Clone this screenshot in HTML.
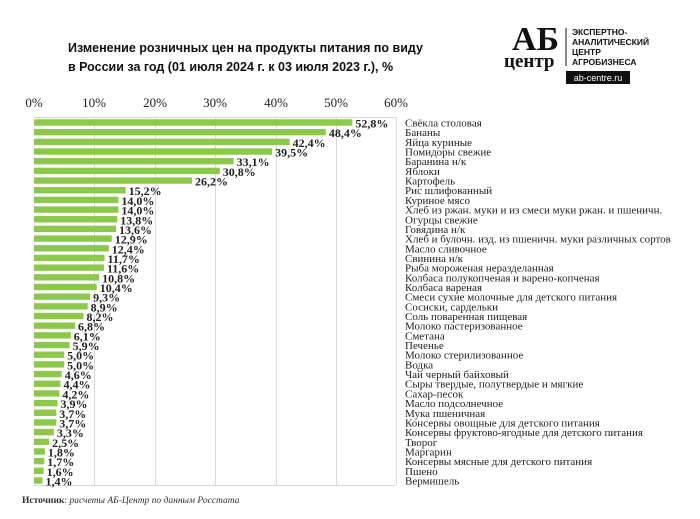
<!DOCTYPE html>
<html><head><meta charset="utf-8"><style>
body{margin:0;background:#fff;width:700px;height:514px;overflow:hidden}
</style></head><body>
<svg width="700" height="514" xmlns="http://www.w3.org/2000/svg" font-family="Liberation Serif, serif">
<text x="68" y="52" font-family="Liberation Sans, sans-serif" font-weight="bold" font-size="12.5" fill="#111">Изменение розничных цен на продукты питания по виду</text>
<text x="68" y="71" font-family="Liberation Sans, sans-serif" font-weight="bold" font-size="12.5" fill="#111">в России за год (01 июля 2024 г. к 03 июля 2023 г.), %</text>
<g font-family="Liberation Serif, serif">
<text x="512" y="50" font-size="34" font-weight="bold" fill="#111">АБ</text>
<text x="504" y="67" font-size="19" font-weight="bold" fill="#111">центр</text>
</g>
<line x1="566" y1="28" x2="566" y2="66" stroke="#111" stroke-width="1"/>
<g font-family="Liberation Sans, sans-serif" font-weight="bold" font-size="8.5" fill="#111">
<text x="572" y="35">ЭКСПЕРТНО-</text><text x="572" y="45">АНАЛИТИЧЕСКИЙ</text><text x="572" y="55">ЦЕНТР</text><text x="572" y="65">АГРОБИЗНЕСА</text>
</g>
<rect x="566" y="71" width="64" height="13" fill="#111"/>
<text x="598" y="81" text-anchor="middle" font-family="Liberation Sans, sans-serif" font-size="9" fill="#fff">ab-centre.ru</text>
<g font-size="13" fill="#222" text-anchor="middle">
<text x="34" y="107">0%</text><text x="94" y="107">10%</text><text x="155" y="107">20%</text><text x="215" y="107">30%</text><text x="276" y="107">40%</text><text x="336" y="107">50%</text><text x="396" y="107">60%</text>
</g>
<g stroke="#d8d8d8" stroke-width="1">
<line x1="94.5" y1="117" x2="94.5" y2="485"/><line x1="155.5" y1="117" x2="155.5" y2="485"/><line x1="215.5" y1="117" x2="215.5" y2="485"/><line x1="276.5" y1="117" x2="276.5" y2="485"/><line x1="336.5" y1="117" x2="336.5" y2="485"/><line x1="396.5" y1="117" x2="396.5" y2="485"/>
<line x1="34" y1="117.5" x2="396" y2="117.5"/><line x1="34" y1="485.5" x2="396" y2="485.5"/>
</g>
<g id="bars"></g>
<text x="22" y="503" font-size="9.5" fill="#333"><tspan font-weight="bold">Источник</tspan>:  <tspan font-style="italic">расчеты АБ-Центр  по данным  Росстата</tspan></text>
</svg>
<script>
var d=[["Свёкла столовая",52.8],["Бананы",48.4],["Яйца куриные",42.4],["Помидоры свежие",39.5],["Баранина н/к",33.1],["Яблоки",30.8],["Картофель",26.2],["Рис шлифованный",15.2],["Куриное мясо",14.0],["Хлеб из ржан. муки и из смеси муки ржан. и пшеничн.",14.0],["Огурцы свежие",13.8],["Говядина н/к",13.6],["Хлеб и булочн. изд. из пшеничн. муки различных сортов",12.9],["Масло сливочное",12.4],["Свинина н/к",11.7],["Рыба мороженая неразделанная",11.6],["Колбаса полукопченая и варено-копченая",10.8],["Колбаса вареная",10.4],["Смеси сухие молочные для детского питания",9.3],["Сосиски, сардельки",8.9],["Соль поваренная пищевая",8.2],["Молоко пастеризованное",6.8],["Сметана",6.1],["Печенье",5.9],["Молоко стерилизованное",5.0],["Водка",5.0],["Чай черный байховый",4.6],["Сыры твердые, полутвердые и мягкие",4.4],["Сахар-песок",4.2],["Масло подсолнечное",3.9],["Мука пшеничная",3.7],["Консервы овощные для детского питания",3.7],["Консервы фруктово-ягодные для детского питания",3.3],["Творог",2.5],["Маргарин",1.8],["Консервы мясные для детского питания",1.7],["Пшено",1.6],["Вермишель",1.4]];
var g=document.getElementById('bars'),s='',n=d.length,pitch=(480.5-122.5)/(n-1);
for(var i=0;i<n;i++){var yc=122.5+i*pitch,w=d[i][1]*6.03;
s+='<rect x="34" y="'+(yc-3.2)+'" width="'+w+'" height="6.4" fill="#8cc84b"/>';
s+='<text x="'+(34+w+3)+'" y="'+(yc+5)+'" font-size="12" font-weight="bold" fill="#222">'+d[i][1].toFixed(1).replace('.',',')+'%</text>';
s+='<text x="405" y="'+(yc+4)+'" font-size="11" fill="#222" textLength="'+(0)+'">'+d[i][0]+'</text>';}
g.innerHTML=s.replace(/ textLength="0"/g,'');
</script>
</body></html>
